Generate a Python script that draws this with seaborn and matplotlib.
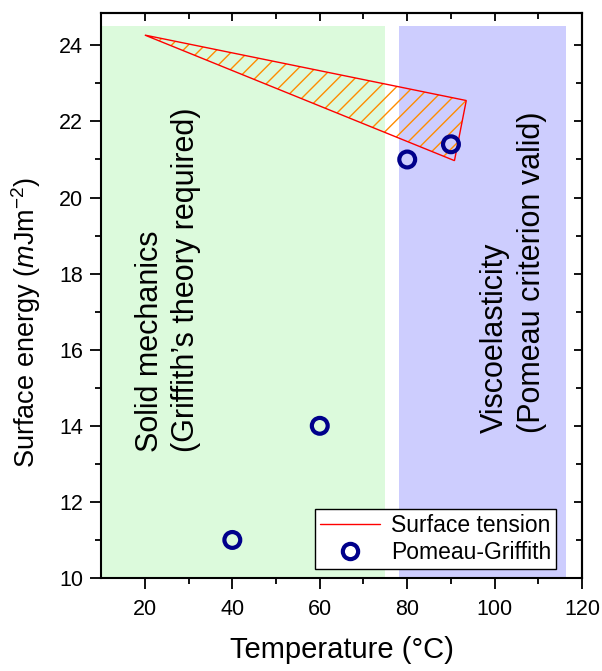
import matplotlib
matplotlib.use("Agg")
import matplotlib.pyplot as plt
from matplotlib.lines import Line2D
import seaborn as sns
import pandas as pd

# data
temps = [40, 60, 80, 90]
energy = [11.0, 14.0, 21.0, 21.4]
tri_x = [20.0, 93.5, 90.8]
tri_y = [24.27, 22.55, 20.97]
solid_range = [10, 75]
visco_range = [78.2, 116.2]
band_y = [10, 24.5]
xticks_major = [20, 40, 60, 80, 100, 120]
yticks_major = [10, 12, 14, 16, 18, 20, 22, 24]

sns.set_theme(style="ticks")
plt.rcParams['font.family'] = ['Liberation Sans', 'DejaVu Sans']
plt.rcParams['mathtext.fontset'] = 'custom'
plt.rcParams['mathtext.rm'] = 'Liberation Sans'
plt.rcParams['mathtext.it'] = 'Liberation Sans:italic'
plt.rcParams['hatch.linewidth'] = 1.0
plt.rcParams['text.color'] = 'black'
plt.rcParams['axes.labelcolor'] = 'black'
plt.rcParams['xtick.color'] = 'black'
plt.rcParams['ytick.color'] = 'black'

fig = plt.figure(figsize=(6.02, 6.71), dpi=100)
ax = fig.add_axes([0.168, 0.1386, 0.799, 0.842])

ax.fill_between(solid_range, band_y[0], band_y[1], color='#dcfadc', lw=0, zorder=0)
ax.fill_between(visco_range, band_y[0], band_y[1], color='#cdcdfe', lw=0, zorder=0)

ax.fill(tri_x, tri_y, facecolor='none', edgecolor='#ff8c00', hatch='//', lw=0, zorder=1)
ax.fill(tri_x, tri_y, facecolor='none', edgecolor='red', lw=1.0, zorder=2)

df = pd.DataFrame({'T': temps, 'E': energy})
sns.scatterplot(data=df, x='T', y='E', ax=ax, marker='o', s=130,
                facecolors='none', edgecolor='#00008b', linewidth=3, zorder=3, legend=False)

ax.text(25.3, 13.3, "Solid mechanics\n(Griffith\u2019s theory required)", rotation=90,
        fontsize=22, ha='center', va='bottom', multialignment='left', linespacing=1.3)
ax.text(104.3, 13.8, "Viscoelasticity\n(Pomeau criterion valid)", rotation=90,
        fontsize=22, ha='center', va='bottom', multialignment='left', linespacing=1.3)

ax.set_xlim(10, 120)
ax.set_ylim(10, 24.85)
ax.set_xticks(xticks_major)
ax.set_xticks(range(30, 120, 20), minor=True)
ax.set_yticks(yticks_major)
ax.set_yticks(range(11, 25, 2), minor=True)
ax.tick_params(axis='both', which='major', labelsize=15.5, direction='out', length=8, width=1.3)
ax.tick_params(axis='both', which='minor', direction='out', length=4.5, width=1.3)
ax.tick_params(axis='x', which='major', pad=7)
ax.tick_params(axis='y', which='major', pad=5)

secx = ax.secondary_xaxis('top')
secx.set_xticks(xticks_major, labels=[])
secx.set_xticks(range(30, 120, 20), minor=True)
secx.tick_params(which='major', direction='in', length=6, width=1.3)
secx.tick_params(which='minor', direction='in', length=4, width=1.3)
secy = ax.secondary_yaxis('right')
secy.set_yticks(yticks_major, labels=[])
secy.set_yticks(range(11, 25, 2), minor=True)
secy.tick_params(which='major', direction='in', length=6, width=1.3)
secy.tick_params(which='minor', direction='in', length=4, width=1.3)
for s in ax.spines.values():
    s.set_linewidth(1.5)
    s.set_color('black')
for a in (secx, secy):
    for s in a.spines.values():
        s.set_linewidth(1.5)

ax.set_xlabel("Temperature (\u00b0C)", fontsize=21, labelpad=12)
ax.set_ylabel(r"Surface energy ($\mathit{m}$Jm$^{\mathregular{-2}}$)", fontsize=19.5)
ax.yaxis.set_label_coords(-0.12, 0.453)

handles = [Line2D([], [], color='red', lw=1),
           Line2D([], [], marker='o', ls='none', markerfacecolor='none',
                  markeredgecolor='#00008b', markeredgewidth=3, markersize=11)]
leg = ax.legend(handles, ["Surface tension", "Pomeau-Griffith"], loc='lower right',
                bbox_to_anchor=(0.955, 0.008), fontsize=16.5, frameon=True, fancybox=False,
                edgecolor='black', framealpha=1, handlelength=2.6, borderpad=0.2,
                labelspacing=0.2, handletextpad=0.5, borderaxespad=0.2)
leg.get_frame().set_linewidth(1.0)

fig.savefig("out.png", dpi=100)
